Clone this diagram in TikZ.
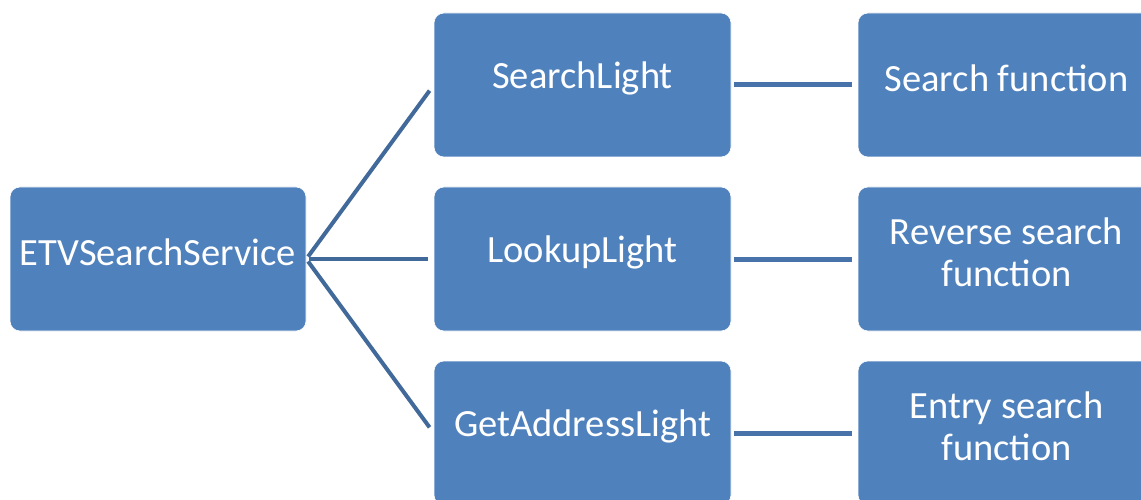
\documentclass[tikz,border=0pt]{standalone}
\usepackage{fontspec}
\setmainfont{Carlito}
\definecolor{boxblue}{HTML}{4F81BD}
\definecolor{fanline}{HTML}{41699A}
\definecolor{hline}{HTML}{4873AA}
\begin{document}
\begin{tikzpicture}[x=1pt,y=-1pt,
  blk/.style={fill=boxblue, draw=white, line width=0.6pt, rounded corners=10pt,
    minimum width=297pt, minimum height=144pt, inner sep=0pt},
  lbl/.style={text=white, align=center, inner sep=0pt, yshift=7pt,
    font=\fontsize{38.5}{42}\selectfont},
  fan/.style={draw=fanline, line width=4pt},
  link/.style={draw=hline, line width=5pt}]
\useasboundingbox (0,0) rectangle (1141,500);
\fill[white] (0,0) rectangle (1141,500);
\begin{scope}
\clip (0,0) rectangle (1141,500);
\node[blk, minimum width=296pt] (etv) at (158,259) {};
\node[blk] (sl) at (582.5,85) {};
\node[blk] (ll) at (582.5,259) {};
\node[blk] (ga) at (582.5,433) {};
\node[blk] (sf) at (1006.5,85) {};
\node[blk] (rf) at (1006.5,259) {};
\node[blk] (ef) at (1006.5,433) {};
\node[lbl] (etvt) at (etv.center) {ETVSearchService};
\node[lbl] (slt) at (sl.center) {SearchLight};
\node[lbl] (llt) at (ll.center) {LookupLight};
\node[lbl] (gat) at (ga.center) {GetAddressLight};
\node[lbl] (sft) at (sf.center) {Search function};
\node[lbl] (rft) at (rf.center) {Reverse search\\function};
\node[lbl] (eft) at (ef.center) {Entry search\\function};
\draw[fan, shorten <=3pt, shorten >=7pt] (etv.east) -- (sl.west);
\draw[fan, shorten <=3pt, shorten >=6pt] (etv.east) -- (ll.west);
\draw[fan, shorten <=3pt, shorten >=7pt] (etv.east) -- (ga.west);
\draw[link, shorten <=3pt, shorten >=6pt] (sl.east) -- (sf.west);
\draw[link, shorten <=3pt, shorten >=6pt] (ll.east) -- (rf.west);
\draw[link, shorten <=3pt, shorten >=6pt] (ga.east) -- (ef.west);
\end{scope}
\end{tikzpicture}
\end{document}
